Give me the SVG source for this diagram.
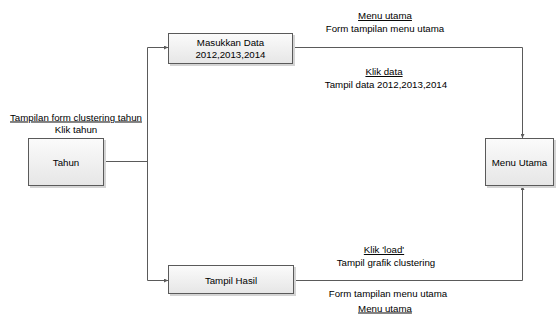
<svg xmlns="http://www.w3.org/2000/svg" width="556" height="322" viewBox="0 0 556 322">
  <style>
    .box { fill: url(#boxFill); stroke: #5a5a5a; stroke-width: 1; }
    .shadow { fill: #d4d4d4; }
    .wire { fill: none; stroke: #5a5a5a; stroke-width: 1; }
    .lbl { font-family: "Liberation Sans", Arial, sans-serif; font-size: 9.7px; fill: #000; text-anchor: middle; }
    .u { text-decoration: underline; }
  </style>
  <defs>
    <linearGradient id="boxFill" x1="0" y1="0" x2="0" y2="1">
      <stop offset="0" stop-color="#fbfbfb"/>
      <stop offset="1" stop-color="#e6e6e6"/>
    </linearGradient>
    <marker id="tip" markerWidth="4" markerHeight="4" refX="4" refY="2" orient="auto" markerUnits="userSpaceOnUse">
      <path d="M0,0 L4,2 L0,4 Z" fill="#5a5a5a"/>
    </marker>
  </defs>

  <!-- connectors -->
  <g id="connectors">
    <path class="wire" d="M103.5,161.5 H147.5"/>
    <path class="wire" d="M147.5,47.5 V280.5"/>
    <path class="wire" d="M147.5,47.5 H168" marker-end="url(#tip)"/>
    <path class="wire" d="M147.5,280.5 H168" marker-end="url(#tip)"/>
    <path class="wire" d="M293,47.5 H522.5 V138" marker-end="url(#tip)"/>
    <path class="wire" d="M294,280.5 H522.5 V186" marker-end="url(#tip)"/>
  </g>

  <!-- nodes -->
  <g id="tahun">
    <rect class="shadow" x="30" y="140" width="76" height="48"/>
    <rect class="box" x="28.5" y="138.5" width="75" height="47"/>
    <text class="lbl" x="66" y="165.5">Tahun</text>
  </g>
  <g id="masukkan-data">
    <rect class="shadow" x="170" y="35" width="125" height="31"/>
    <rect class="box" x="168.5" y="33.5" width="124" height="30"/>
    <text class="lbl" x="230.5" y="46">Masukkan Data</text>
    <text class="lbl" x="230.5" y="58">2012,2013,2014</text>
  </g>
  <g id="tampil-hasil">
    <rect class="shadow" x="170" y="267" width="126" height="29"/>
    <rect class="box" x="168.5" y="265.5" width="125" height="28"/>
    <text class="lbl" x="231" y="283.5">Tampil Hasil</text>
  </g>
  <g id="menu-utama">
    <rect class="shadow" x="487" y="140" width="69" height="48"/>
    <rect class="box" x="485.5" y="138.5" width="68" height="47"/>
    <text class="lbl" x="519.5" y="165.5">Menu Utama</text>
  </g>

  <!-- connector labels -->
  <g id="labels">
    <text class="lbl u" x="76" y="120.5">Tampilan form clustering tahun</text>
    <text class="lbl" x="76" y="133">Klik tahun</text>
    <text class="lbl u" x="385" y="19">Menu utama</text>
    <text class="lbl" x="385" y="32">Form tampilan menu utama</text>
    <text class="lbl u" x="384" y="75">Klik data</text>
    <text class="lbl" x="386" y="87.5">Tampil data 2012,2013,2014</text>
    <text class="lbl u" x="384" y="253">Klik 'load'</text>
    <text class="lbl" x="386" y="266">Tampil grafik clustering</text>
    <text class="lbl" x="388" y="297">Form tampilan menu utama</text>
    <text class="lbl u" x="385" y="311.5">Menu utama</text>
  </g>
</svg>
